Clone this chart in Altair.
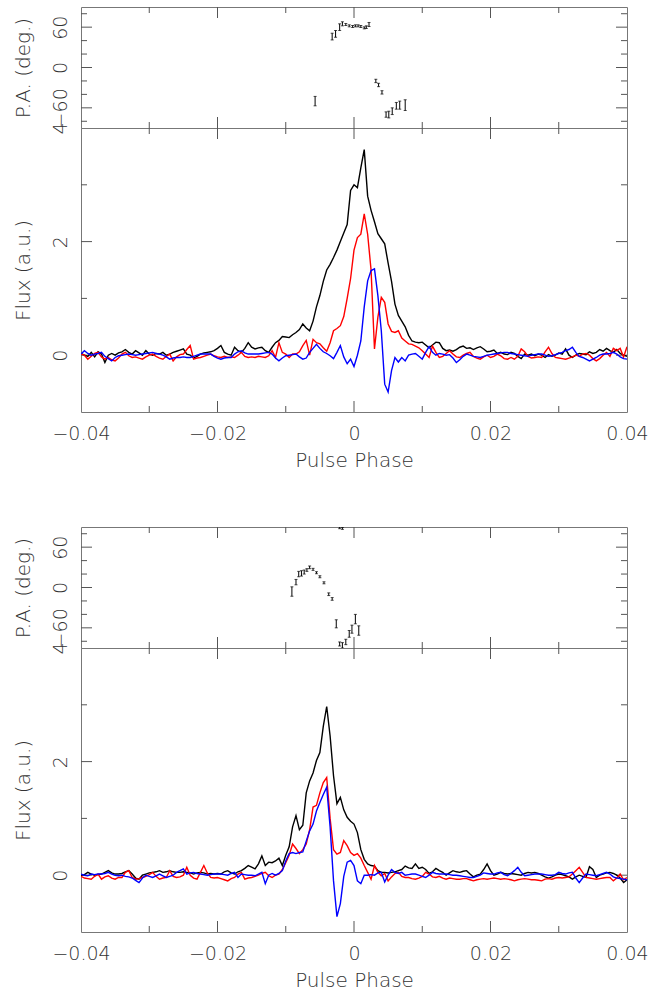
import altair as alt
import pandas as pd

# ---------------- data ----------------
PHASE_START = -0.04
PHASE_STEP = 0.0005

# Panel 1 profiles (total intensity, linear, circular)
p1_I = [0.03, 0.00, -0.02, 0.05, -0.03, 0.06, 0.02, -0.13, 0.00, 0.03,
        0.00, 0.04, 0.06, 0.10, 0.05, 0.02, 0.08, 0.04, 0.00, 0.08,
        0.02, 0.00, 0.03, 0.02, 0.05, 0.00, 0.02, 0.05, 0.07, 0.09,
        0.11, 0.02, 0.00, -0.05, -0.02, 0.02, 0.04, 0.05, 0.06, 0.08,
        0.12, 0.17, 0.05, 0.02, 0.00, 0.14, 0.08, 0.05, 0.12, 0.22,
        0.14, 0.11, 0.13, 0.14, 0.08, 0.05, 0.14, 0.22, 0.26, 0.33,
        0.32, 0.31, 0.36, 0.40, 0.45, 0.55, 0.48, 0.43, 0.60, 0.85,
        1.05, 1.30, 1.50, 1.60, 1.72, 1.85, 2.00, 2.15, 2.30, 2.90,
        3.00, 2.95, 3.30, 3.62, 2.80, 2.55, 2.35, 2.14, 2.05, 1.96,
        1.62, 1.30, 0.90, 0.70, 0.60, 0.50, 0.35, 0.25, 0.23, 0.22,
        0.23, 0.18, 0.13, 0.18, 0.23, 0.22, 0.12, 0.08, 0.09, 0.07,
        0.10, 0.14, 0.16, 0.12, 0.13, 0.10, 0.13, 0.15, 0.11, 0.06,
        0.07, 0.09, 0.03, 0.05, 0.02, 0.01, 0.05, 0.03, -0.02, -0.06,
        0.02, 0.00, 0.02, -0.01, 0.02, 0.00, -0.04, 0.01, -0.02, 0.00,
        0.04, 0.02, 0.11, 0.00, -0.04, 0.00, 0.03, 0.02, 0.01, 0.06,
        0.03, 0.05, 0.10, 0.07, 0.12, 0.08, 0.05, 0.10, 0.03, 0.00, -0.02]
p1_L = [0.02, 0.00, -0.07, -0.02, 0.03, 0.05, -0.03, -0.07, -0.04, -0.08,
        -0.10, -0.05, 0.02, 0.05, -0.01, -0.04, -0.03, -0.05, -0.07, -0.03,
        0.00, 0.02, -0.02, -0.05, -0.07, -0.02, 0.02, -0.10, -0.03, 0.01,
        0.02, 0.10, 0.17, -0.07, -0.05, -0.04, -0.02, 0.00, 0.02, -0.01,
        -0.03, -0.04, -0.02, -0.04, -0.03, -0.04, 0.00, 0.05, -0.02, -0.04,
        -0.03, -0.04, -0.02, -0.03, -0.04, -0.01, 0.08, -0.04, 0.22, 0.05,
        0.02, -0.04, 0.02, 0.02, 0.06, 0.17, 0.26, 0.00, 0.28, 0.22,
        0.20, 0.13, 0.07, 0.22, 0.43, 0.47, 0.52, 0.68, 1.00, 1.35,
        1.85, 2.07, 2.13, 2.49, 2.13, 1.50, 0.11, 0.67, 1.02, 0.93,
        0.55, 0.42, 0.40, 0.43, 0.30, 0.25, 0.20, 0.19, 0.16, 0.13,
        0.08, 0.02, -0.04, 0.16, 0.05, -0.04, -0.02, 0.03, 0.08, 0.02,
        -0.03, -0.04, 0.00, 0.03, 0.05, -0.02, -0.05, -0.07, -0.03, 0.00,
        -0.04, -0.02, 0.02, -0.01, -0.06, -0.07, -0.04, -0.07, -0.02, 0.11,
        0.06, -0.02, -0.05, -0.04, -0.03, -0.04, 0.06, 0.14, 0.03, -0.04,
        -0.05, -0.06, -0.07, -0.05, -0.03, 0.00, -0.02, 0.02, 0.03, 0.00,
        -0.06, -0.10, -0.06, 0.00, 0.05, -0.02, 0.12, 0.08, 0.12, -0.03, 0.15]
p1_V = [0.02, 0.08, 0.03, 0.00, 0.02, 0.03, 0.05, -0.02, -0.06, -0.10,
        -0.04, -0.01, 0.00, 0.01, 0.02, 0.01, 0.00, 0.01, 0.02, 0.03,
        0.04, 0.05, 0.03, 0.02, 0.00, -0.03, -0.07, -0.05, -0.04, -0.04,
        -0.03, -0.04, -0.04, -0.02, 0.00, 0.02, 0.02, 0.02, 0.02, -0.02,
        -0.05, -0.07, -0.05, -0.04, -0.04, 0.02, 0.06, 0.08, 0.04, 0.02,
        0.02, 0.02, 0.02, 0.03, 0.04, 0.05, 0.02, -0.05, -0.10, -0.05,
        -0.01, 0.00, 0.01, 0.02, -0.03, -0.07, -0.05, 0.05, 0.12, 0.19,
        0.12, 0.06, 0.03, -0.01, -0.06, 0.05, 0.17, -0.03, -0.15, -0.07,
        -0.20, 0.00, 0.25, 0.85, 1.31, 1.49, 1.52, 1.05, 0.43, -0.51,
        -0.65, -0.27, -0.04, -0.12, -0.04, -0.10, 0.00, 0.02, 0.03, -0.02,
        -0.07, 0.05, 0.15, 0.05, 0.00, 0.03, 0.02, 0.00, 0.01, -0.05,
        -0.13, -0.08, -0.02, 0.02, 0.00, -0.02, -0.03, -0.04, -0.02, 0.00,
        0.01, 0.02, 0.03, 0.04, 0.05, 0.05, 0.03, 0.02, 0.01, 0.00,
        -0.01, -0.02, 0.00, 0.01, 0.02, 0.02, 0.00, -0.02, -0.01, 0.01,
        0.03, 0.05, 0.08, 0.10, 0.14, 0.05, -0.02, -0.04, -0.07, -0.10,
        -0.07, -0.04, 0.00, 0.02, 0.02, 0.03, 0.05, 0.02, -0.03, -0.06, -0.07]

# Panel 2 profiles
p2_I = [0.00, 0.01, 0.05, 0.02, 0.00, 0.01, 0.02, 0.05, 0.08, 0.04,
        0.02, 0.02, 0.03, 0.06, 0.08, 0.02, -0.05, -0.07, 0.00, 0.02,
        0.04, 0.05, 0.06, 0.08, 0.05, 0.06, 0.08, 0.06, 0.05, 0.05,
        0.06, 0.05, 0.04, 0.02, 0.04, 0.05, 0.04, 0.02, 0.03, 0.02,
        0.03, 0.02, 0.06, 0.08, 0.04, 0.02, 0.06, 0.08, 0.12, 0.17,
        0.14, 0.11, 0.20, 0.34, 0.17, 0.23, 0.22, 0.25, 0.30, 0.17,
        0.35, 0.50, 0.85, 1.05, 0.80, 0.88, 1.45, 1.66, 1.80, 2.02,
        2.16, 2.62, 2.97, 2.45, 1.75, 1.26, 1.37, 1.15, 1.02, 0.95,
        0.90, 0.75, 0.45, 0.28, 0.20, 0.17, 0.16, 0.08, 0.05, 0.05,
        0.04, 0.05, 0.06, 0.08, 0.10, 0.16, 0.13, 0.12, 0.20, 0.12,
        0.14, 0.10, 0.03, 0.06, 0.12, 0.08, 0.05, 0.00, 0.04, 0.08,
        0.06, 0.05, 0.07, 0.08, 0.02, -0.03, 0.00, 0.02, 0.10, 0.20,
        0.08, 0.00, 0.02, 0.05, 0.03, 0.02, 0.03, 0.02, 0.01, 0.00,
        0.03, 0.05, 0.04, 0.05, 0.03, 0.00, -0.03, -0.05, -0.03, 0.00,
        0.02, 0.01, -0.01, -0.03, -0.07, -0.03, 0.00, -0.02, -0.04, 0.15,
        0.10, -0.04, 0.00, 0.02, 0.04, 0.05, 0.03, 0.00, -0.05, -0.13, -0.08]
p2_L = [-0.02, -0.05, -0.06, -0.07, -0.02, 0.02, -0.07, -0.03, -0.01, -0.05,
        -0.07, -0.04, -0.04, 0.05, 0.08, -0.04, -0.07, -0.06, -0.04, -0.02,
        0.01, 0.05, -0.02, -0.07, -0.05, -0.04, 0.08, -0.02, -0.04, -0.03,
        0.00, 0.14, 0.00, -0.05, -0.07, 0.05, 0.17, 0.04, -0.04, -0.05,
        -0.04, -0.06, -0.08, -0.10, -0.06, -0.04, 0.02, 0.05, -0.07, -0.05,
        -0.04, -0.02, 0.00, 0.03, 0.05, -0.01, -0.04, 0.00, 0.02, 0.10,
        0.22, 0.35, 0.55, 0.47, 0.38, 0.45, 0.55, 0.80, 1.20, 1.23,
        1.45, 1.63, 1.72, 1.00, 0.45, 0.37, 0.40, 0.61, 0.52, 0.40,
        0.35, 0.38, 0.30, 0.17, 0.05, -0.07, 0.17, 0.05, -0.01, 0.03,
        -0.10, -0.03, 0.03, 0.05, -0.02, -0.04, -0.04, -0.06, -0.07, -0.05,
        -0.02, 0.05, 0.02, -0.03, -0.04, -0.02, -0.05, -0.07, -0.05, -0.06,
        -0.07, -0.07, -0.06, -0.06, -0.08, -0.10, -0.08, -0.07, -0.06, -0.07,
        -0.06, -0.05, -0.06, -0.07, -0.06, -0.07, -0.08, -0.10, -0.08, -0.07,
        -0.06, -0.07, -0.08, -0.08, -0.09, -0.10, -0.07, -0.06, -0.07, -0.05,
        -0.04, -0.05, -0.04, -0.03, 0.02, 0.08, 0.14, 0.05, -0.04, -0.05,
        -0.06, -0.07, -0.06, -0.05, -0.04, -0.04, -0.10, -0.05, 0.02, -0.08, -0.04]
p2_V = [0.02, 0.00, -0.01, 0.02, 0.01, 0.02, 0.02, 0.03, 0.05, 0.02,
        0.00, -0.01, 0.00, -0.02, -0.03, -0.05, -0.09, -0.13, -0.05, 0.00,
        -0.02, -0.04, -0.01, 0.02, -0.01, -0.04, -0.02, 0.00, 0.05, 0.08,
        0.11, 0.02, 0.04, 0.05, 0.03, 0.02, 0.01, 0.00, 0.01, 0.02,
        0.02, 0.02, 0.01, 0.00, 0.03, 0.05, -0.04, 0.02, 0.01, 0.00,
        0.00, -0.01, 0.02, 0.05, -0.15, 0.00, 0.03, 0.00, 0.03, 0.08,
        0.25, 0.38, 0.40, 0.38, 0.40, 0.41, 0.60, 0.78, 0.90, 1.13,
        1.28, 1.42, 1.55, 0.85, -0.10, -0.73, -0.50, -0.02, 0.23, 0.26,
        0.17, -0.10, -0.15, 0.00, 0.00, 0.01, 0.00, 0.04, 0.05, -0.12,
        0.00, 0.10, 0.05, 0.03, 0.05, 0.00, 0.01, 0.02, 0.02, 0.00,
        -0.02, -0.04, 0.00, 0.05, 0.03, 0.02, 0.02, 0.02, 0.01, 0.00,
        0.00, -0.01, -0.02, -0.03, -0.04, -0.04, -0.02, 0.00, 0.04, 0.03,
        0.02, 0.02, 0.04, 0.05, 0.01, -0.01, 0.03, 0.08, 0.14, 0.05,
        -0.01, 0.00, 0.01, 0.02, 0.02, 0.02, 0.01, 0.00, 0.00, 0.01,
        0.05, 0.03, 0.02, 0.04, 0.05, -0.05, -0.13, -0.05, 0.02, 0.01,
        0.00, -0.01, 0.01, 0.03, 0.05, 0.02, -0.03, -0.05, -0.06, -0.07, -0.08]

# Position angle points (phase, PA, error)
pa1_phase = [-0.0057, -0.0032, -0.0027, -0.0021, -0.0017, -0.0012, -0.0007, -0.0002,
             0.0002, 0.0006, 0.0010, 0.0015, 0.0018, 0.0022, 0.0032, 0.0036, 0.0041,
             0.0047, 0.0051, 0.0056, 0.0062, 0.0067, 0.0075]
pa1_val = [-50, 46, 50, 60, 65, 64, 62, 61, 62, 62, 61, 59, 60, 64,
           -20, -26, -37, -70, -70, -65, -57, -56, -56]
pa1_err = [7, 5, 5, 5, 3, 1.5, 1.5, 1.5, 1.5, 1.5, 1.5, 1.5, 2, 3,
           2.5, 2.5, 2.5, 4, 5, 5, 5, 6, 8]

pa2_phase = [-0.0091, -0.0085, -0.0081, -0.0077, -0.0073, -0.0069, -0.0065, -0.0060,
             -0.0055, -0.0050, -0.0044, -0.0037, -0.0032, -0.0026, -0.0021, -0.0021,
             -0.0017, -0.0017, -0.0012, -0.0007, -0.0003, 0.0002, 0.0007]
pa2_val = [-6, 8, 20, 21, 23, 26, 30, 27, 22, 16, 7, -10, -17, -54, -84, 89,
           -86, 88, -81, -69, -62, -47, -64]
pa2_err = [7, 4, 4, 4, 3, 2, 2, 1.5, 1.5, 1.5, 1.5, 2, 2, 6, 3, 1.5,
           4, 1.5, 4, 5, 6, 7, 7]

x_label_values = [-0.04, -0.02, 0, 0.02, 0.04]
x_major_ticks = [-0.02, 0, 0.02]
x_minor_ticks = [-0.03, -0.01, 0.01, 0.03]
pa_label_values = [-60, 0, 60]
pa_minor_ticks = [-80, -40, -20, 20, 40, 80]
flux_label_values = [0, 2, 4]
flux_major_ticks = [0, 2]
flux_minor_ticks = [1, 3]

# ---------------- style ----------------
W = 546
H_PA = 121
H_FLUX = 284
GAP = 115
MAJOR = 11
MINOR = 6
TICK_COLOR = "#555555"
FONT = "DejaVu Sans"
TEXT_COLOR = "#333333"
LINE_W = 1.4

x_scale = alt.Scale(domain=[-0.04, 0.04], nice=False, zero=False)
pa_scale = alt.Scale(domain=[-90, 90], nice=False, zero=False)
flux_scale = alt.Scale(domain=[-1, 4], nice=False, zero=False)

MINUS = "\u2212"

x_axis = alt.Axis(
    values=x_label_values,
    labelExpr="datum.value == 0 ? '0' : (datum.value < 0 ? '" + MINUS + "' : '') + format(abs(datum.value), '.2f')",
    title="Pulse Phase", domain=False, ticks=False, tickSize=0, grid=False,
    labelFontSize=19, labelPadding=27, labelBaseline="alphabetic", labelAlign="center",
    labelFlush=False, labelOverlap=False,
    titleFontSize=20, titleX=W / 2, titleY=54, titleAlign="center",
    titleBaseline="alphabetic", titleAngle=0,
)


def y_axis(values, title, h):
    return alt.Axis(
        values=values,
        labelExpr="datum.value < 0 ? '" + MINUS + "' + format(abs(datum.value), 'd') : format(datum.value, 'd')",
        title=title, domain=False, ticks=False, tickSize=0, grid=False,
        labelFontSize=19, labelAngle=270, labelAlign="center", labelBaseline="alphabetic",
        labelPadding=15, labelFlush=False, labelOverlap=False,
        titleFontSize=20, titleAngle=270, titleX=-52, titleY=h / 2,
        titleAlign="center", titleBaseline="alphabetic",
    )


pa_axis = y_axis(pa_label_values, "P.A. (deg.)", H_PA)
flux_axis = y_axis(flux_label_values, "Flux (a.u.)", H_FLUX)


def y_edge_ticks(vals, length, yscale, yaxis):
    df = pd.DataFrame({"v": vals})
    base = alt.Chart(df)
    left = base.mark_rule(color=TICK_COLOR, strokeWidth=1).encode(
        y=alt.Y("v:Q", scale=yscale, axis=yaxis), x=alt.value(0), x2=alt.value(length))
    right = base.mark_rule(color=TICK_COLOR, strokeWidth=1).encode(
        y=alt.Y("v:Q", scale=yscale, axis=yaxis), x=alt.value(W - length), x2=alt.value(W))
    return [left, right]


def x_edge_ticks(vals, length, h, xaxis):
    df = pd.DataFrame({"v": vals})
    base = alt.Chart(df)
    top = base.mark_rule(color=TICK_COLOR, strokeWidth=1).encode(
        x=alt.X("v:Q", scale=x_scale, axis=xaxis), y=alt.value(0), y2=alt.value(length))
    bottom = base.mark_rule(color=TICK_COLOR, strokeWidth=1).encode(
        x=alt.X("v:Q", scale=x_scale, axis=xaxis), y=alt.value(h - length), y2=alt.value(h))
    return [top, bottom]


def pa_panel(phase, val, err):
    df = pd.DataFrame({"phase": phase, "pa": val, "err": err})
    df["lo"] = df["pa"] - df["err"]
    df["hi"] = df["pa"] + df["err"]
    base = alt.Chart(df)
    bars = base.mark_rule(color="black", strokeWidth=1, clip=True).encode(
        x=alt.X("phase:Q", scale=x_scale, axis=None),
        y=alt.Y("lo:Q", scale=pa_scale, axis=pa_axis), y2="hi:Q")
    cap_lo = base.mark_tick(color="black", orient="horizontal", size=3, thickness=1, clip=True).encode(
        x=alt.X("phase:Q", scale=x_scale, axis=None),
        y=alt.Y("lo:Q", scale=pa_scale, axis=pa_axis))
    cap_hi = base.mark_tick(color="black", orient="horizontal", size=3, thickness=1, clip=True).encode(
        x=alt.X("phase:Q", scale=x_scale, axis=None),
        y=alt.Y("hi:Q", scale=pa_scale, axis=pa_axis))
    layers = (y_edge_ticks(pa_label_values, MAJOR, pa_scale, pa_axis)
              + y_edge_ticks(pa_minor_ticks, MINOR, pa_scale, pa_axis)
              + x_edge_ticks(x_major_ticks, MAJOR, H_PA, None)
              + x_edge_ticks(x_minor_ticks, MINOR, H_PA, None)
              + [bars, cap_lo, cap_hi])
    return alt.layer(*layers).properties(width=W, height=H_PA)


def flux_panel(I, L, V):
    n = len(I)
    phase = [round(PHASE_START + PHASE_STEP * i, 6) for i in range(n)]
    df = pd.DataFrame({"phase": phase, "I": I, "L": L, "V": V})
    base = alt.Chart(df)
    lines = []
    for col, colour in (("I", "black"), ("L", "#ff0000"), ("V", "#0000ff")):
        lines.append(base.mark_line(color=colour, strokeWidth=LINE_W, clip=True).encode(
            x=alt.X("phase:Q", scale=x_scale, axis=x_axis),
            y=alt.Y(col + ":Q", scale=flux_scale, axis=flux_axis)))
    layers = (y_edge_ticks(flux_major_ticks, MAJOR, flux_scale, flux_axis)
              + y_edge_ticks(flux_minor_ticks, MINOR, flux_scale, flux_axis)
              + x_edge_ticks(x_major_ticks, MAJOR, H_FLUX, x_axis)
              + x_edge_ticks(x_minor_ticks, MINOR, H_FLUX, x_axis)
              + lines)
    return alt.layer(*layers).properties(width=W, height=H_FLUX)


spacer = alt.Chart(pd.DataFrame({"a": [0]})).mark_point(opacity=0).encode(
    x=alt.value(0), y=alt.value(0)
).properties(width=W, height=GAP, view=alt.ViewBackground(stroke="transparent", strokeWidth=0))

chart = alt.vconcat(
    pa_panel(pa1_phase, pa1_val, pa1_err),
    flux_panel(p1_I, p1_L, p1_V),
    spacer,
    pa_panel(pa2_phase, pa2_val, pa2_err),
    flux_panel(p2_I, p2_L, p2_V),
    spacing=0, bounds="flush",
).properties(
    padding={"left": 12, "top": 6, "right": 0, "bottom": 0},
    background="white",
).configure_view(
    stroke="#777777", strokeWidth=1
).configure_axis(
    labelFont=FONT, titleFont=FONT, labelColor=TEXT_COLOR, titleColor=TEXT_COLOR,
    labelFontWeight=200, titleFontWeight=200,
)

chart.save("out.html", embed_options={"renderer": "svg", "actions": False})
